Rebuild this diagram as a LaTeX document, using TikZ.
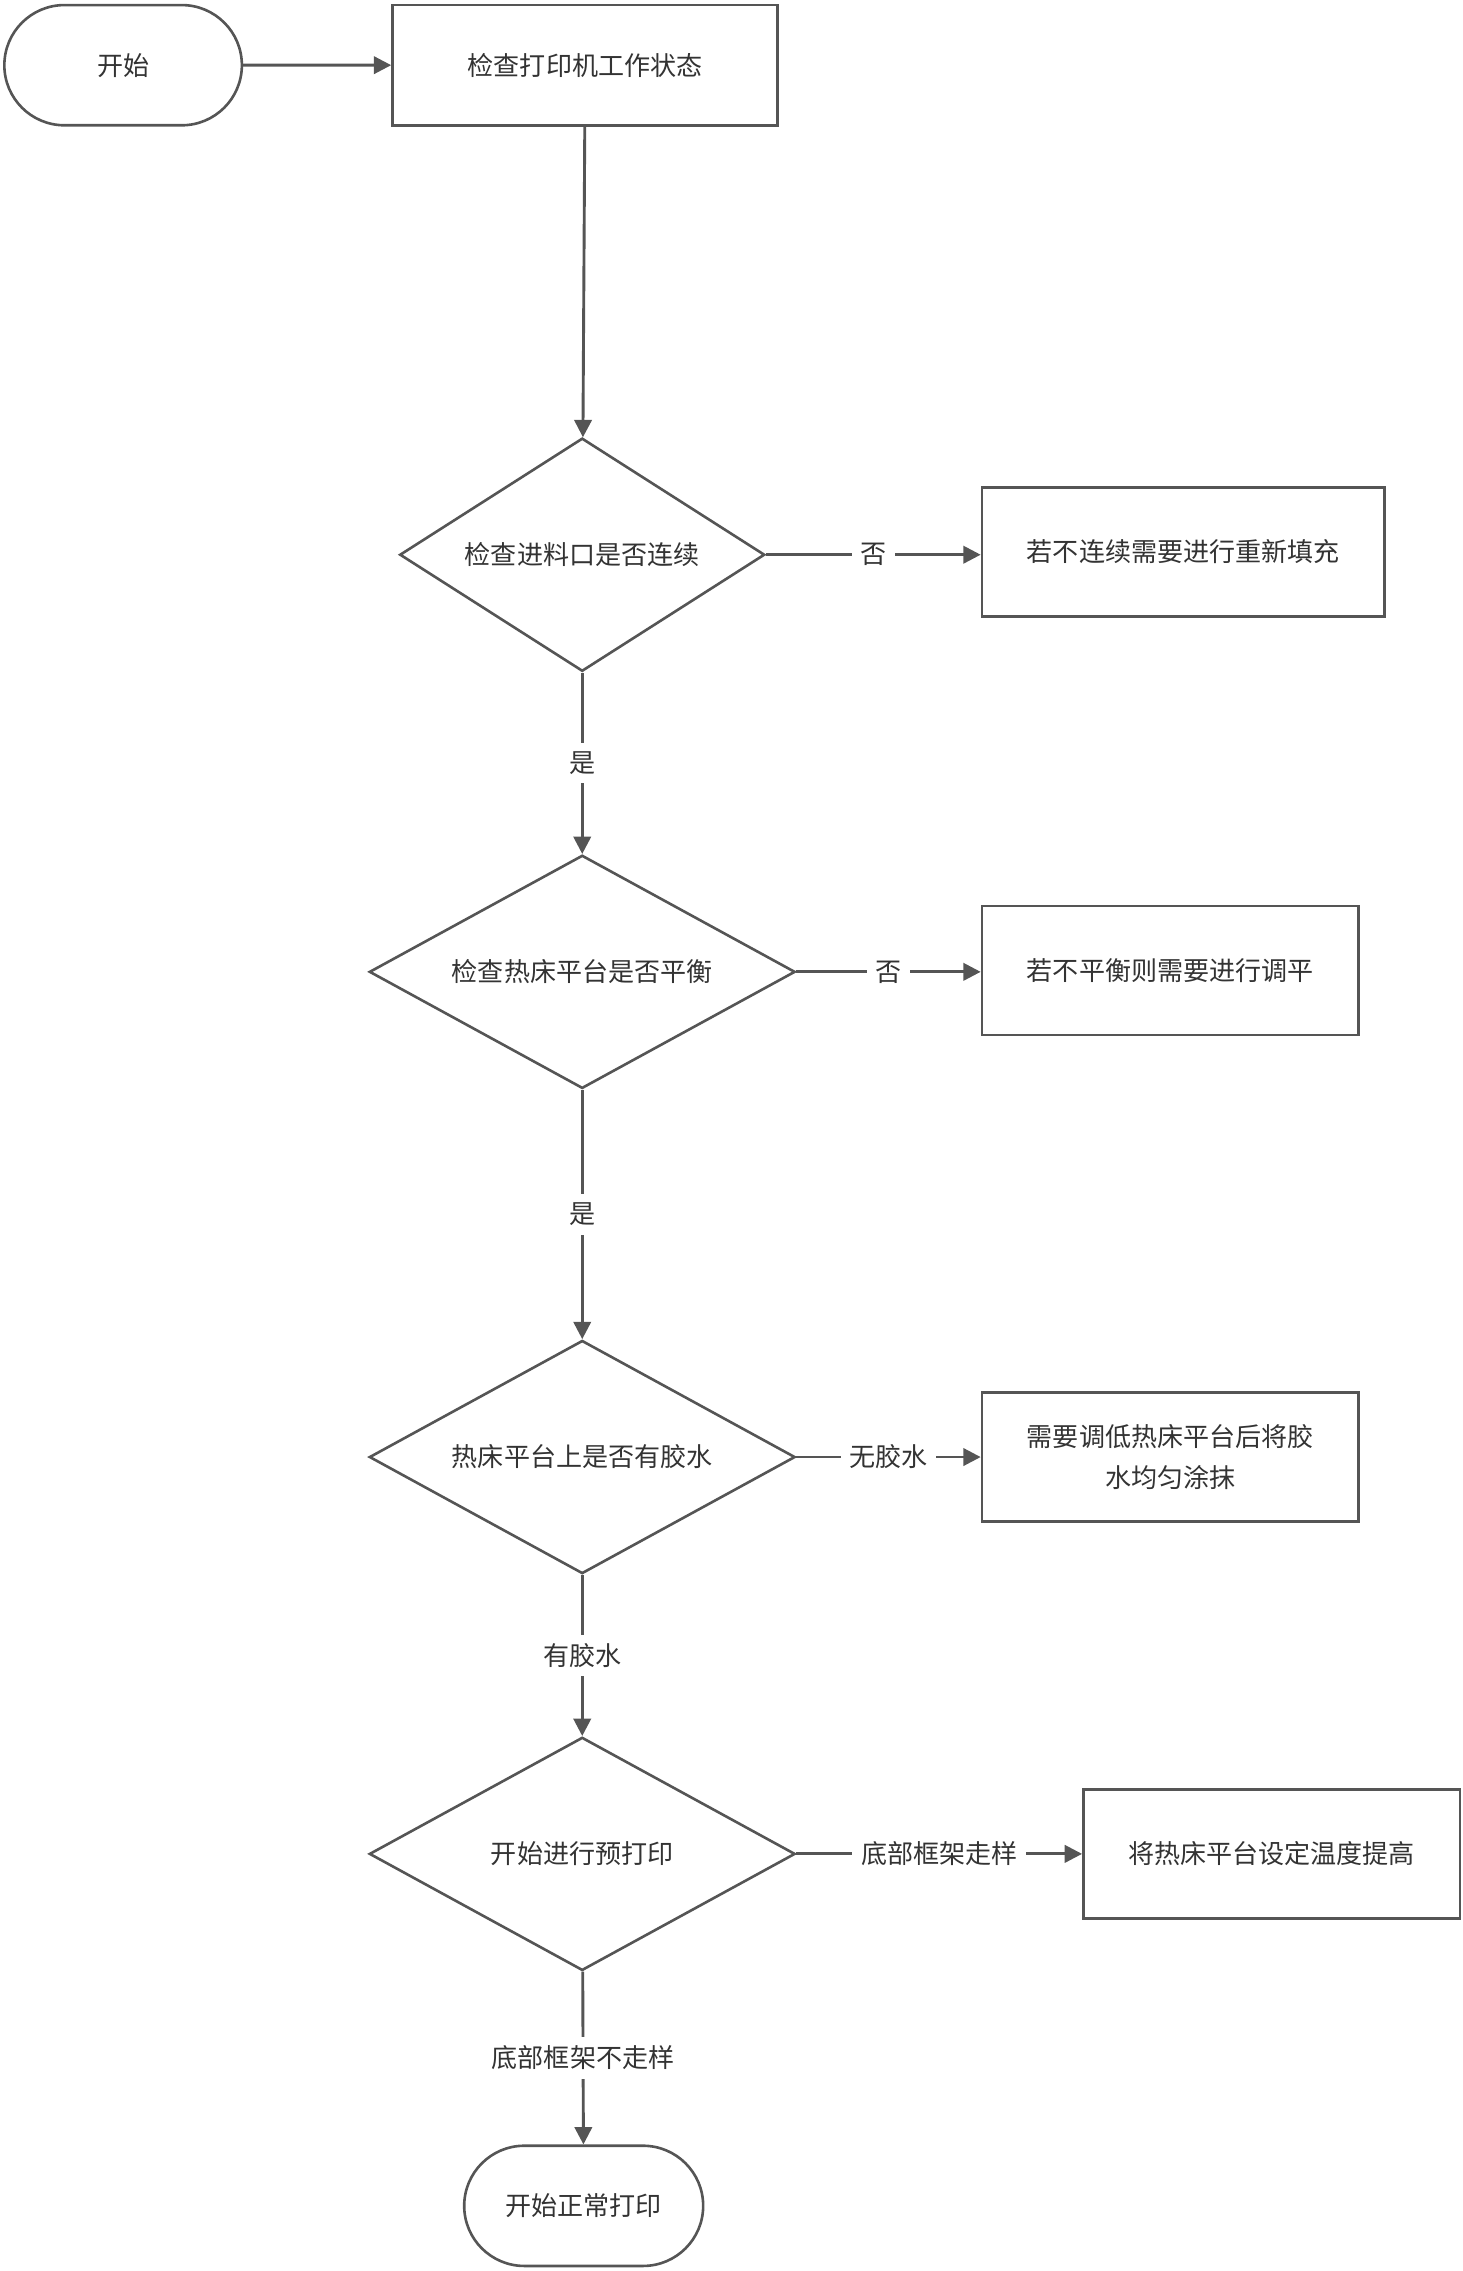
\documentclass[tikz,border=0pt]{standalone}
\usepackage{fontspec}
\setmainfont{Noto Sans CJK SC}
\usetikzlibrary{shapes.geometric,shapes.misc,arrows.meta}
\definecolor{ln}{HTML}{555555}
\definecolor{tx}{HTML}{333333}
\begin{document}
\begin{tikzpicture}[x=0.5pt,y=-0.5pt,
  every node/.style={font=\fontsize{9pt}{14pt}\selectfont,text=tx},
  box/.style={draw=ln,line width=0.9pt,rectangle,inner sep=0pt,align=center},
  term/.style={draw=ln,line width=0.9pt,rounded rectangle,inner sep=0pt},
  dia/.style={draw=ln,line width=0.9pt,diamond,inner sep=0pt,aspect=1.83,minimum width=147pt,minimum height=80.5pt},
  arr/.style={draw=ln,line width=1pt,-{Triangle[length=6pt,width=6pt]}},
  lab/.style={fill=white,inner sep=3pt}]
\useasboundingbox (0,0) rectangle (1010,1568);
\node[term,minimum width=82pt,minimum height=41.5pt] (s) at (85,45) {开始};
\node[box,minimum width=133pt,minimum height=41.5pt] (b1) at (404,45) {检查打印机工作状态};
\node[dia,minimum width=126pt] (d1) at (402,383) {检查进料口是否连续};
\node[box,minimum width=139pt,minimum height=44.5pt] (b2) at (817,381) {若不连续需要进行重新填充};
\node[dia] (d2) at (402,671) {检查热床平台是否平衡};
\node[box,minimum width=130pt,minimum height=44.5pt] (b3) at (808,670) {若不平衡则需要进行调平};
\node[dia] (d3) at (402,1006) {热床平台上是否有胶水};
\node[box,minimum width=130pt,minimum height=44.5pt] (b4) at (808,1006) {需要调低热床平台后将胶\\水均匀涂抹};
\node[dia] (d4) at (402,1280) {开始进行预打印};
\node[box,minimum width=130pt,minimum height=44.5pt] (b5) at (878,1280) {将热床平台设定温度提高};
\node[term,minimum width=82.5pt,minimum height=41.5pt] (e) at (403,1523) {开始正常打印};
\draw[arr] (s) -- (b1);
\draw[arr] (b1) -- (d1);
\draw[arr] (d1.east) -- node[lab]{否} (b2.west|-d1.east);
\draw[arr] (d1) -- node[lab]{是} (d2);
\draw[arr] (d2.east) -- node[lab]{否} (b3.west|-d2.east);
\draw[arr] (d2) -- node[lab]{是} (d3);
\draw[arr] (d3.east) -- node[lab]{无胶水} (b4.west|-d3.east);
\draw[arr] (d3) -- node[lab]{有胶水} (d4);
\draw[arr] (d4.east) -- node[lab]{底部框架走样} (b5.west|-d4.east);
\draw[arr] (d4) -- node[lab]{底部框架不走样} (e);
\end{tikzpicture}
\end{document}
